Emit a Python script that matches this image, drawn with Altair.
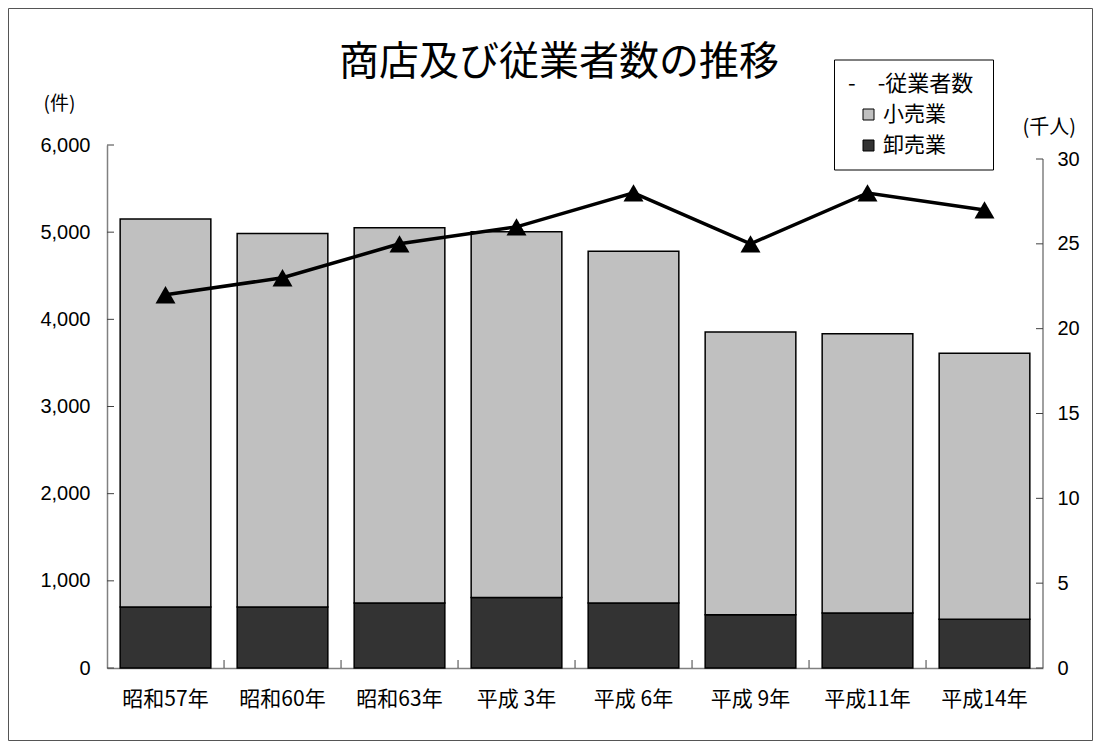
import altair as alt
import pandas as pd

# ---- data ----
categories = ["昭和57年", "昭和60年", "昭和63年", "平成 3年", "平成 6年", "平成 9年", "平成11年", "平成14年"]
retail = [4450, 4285, 4305, 4195, 4035, 3245, 3205, 3050]      # 小売業 (件)
wholesale = [700, 700, 745, 810, 745, 610, 630, 560]            # 卸売業 (件)
employees = [22, 23, 25, 26, 28, 25, 28, 27]                    # 従業者数 (千人)
series_names = ["小売業", "卸売業"]
series_colors = ["#C0C0C0", "#333333"]
line_name = "従業者数"
left_ticks = [0, 1000, 2000, 3000, 4000, 5000, 6000]
right_ticks = [0, 5, 10, 15, 20, 25, 30]
title_text = "商店及び従業者数の推移"
left_unit = "(件)"
right_unit = "(千人)"

W, H = 936, 523
JP = "Noto Sans CJK JP"
NUM = "Liberation Sans"

rows = []
for c, r, w in zip(categories, retail, wholesale):
    rows.append({"cat": c, "type": series_names[1], "value": w, "ord": 0})
    rows.append({"cat": c, "type": series_names[0], "value": r, "ord": 1})
bars_df = pd.DataFrame(rows)
line_df = pd.DataFrame({"cat": categories, "emp": employees})
one = pd.DataFrame({"a": [0]})

xscale = alt.Scale(domain=categories, paddingInner=0.225, paddingOuter=0.1125)
yl = alt.Scale(domain=[0, 6000], nice=False)
yr = alt.Scale(domain=[0, 30 * 523 / 509], nice=False)

x_axis = alt.Axis(title=None, labelAngle=0, ticks=False, domainColor="#808080", domainWidth=1.5,
                  labelFont=JP, labelFontSize=21, labelColor="black", labelPadding=20)
yl_axis = alt.Axis(values=left_ticks, format=",.0f", grid=False, ticks=False,
                   domainColor="#808080", domainWidth=1.5,
                   labelFont=NUM, labelFontSize=20, labelColor="black", labelPadding=17,
                   title=left_unit, titleAngle=0, titleX=-64, titleY=-42,
                   titleAlign="left", titleBaseline="middle", titleFont=JP,
                   titleFontSize=19, titleFontWeight="normal", titleColor="black")
yr_axis = alt.Axis(orient="right", values=right_ticks, format="d", grid=False, ticks=False, domain=False,
                   labelFont=NUM, labelFontSize=20, labelColor="black", labelPadding=14,
                   title=right_unit, titleAngle=0, titleX=-21, titleY=-18,
                   titleAlign="left", titleBaseline="middle", titleFont=JP,
                   titleFontSize=20, titleFontWeight="normal", titleColor="black")

X = alt.X("cat:N", scale=xscale, sort=categories, axis=x_axis)

border = alt.Chart(one).mark_rect(fillOpacity=0, stroke="#555555", strokeWidth=1).encode(
    x=alt.value(-98.5), x2=alt.value(W + 49.5), y=alt.value(-136.5), y2=alt.value(H + 72.5)
)
legend_box = alt.Chart(one).mark_rect(fill="white", stroke="black", strokeWidth=1).encode(
    x=alt.value(727.5), x2=alt.value(886.5), y=alt.value(-85), y2=alt.value(25)
)
title = alt.Chart(one).mark_text(
    text=title_text, font=JP, fontSize=40, align="center", baseline="middle", color="black"
).encode(x=alt.value(452), y=alt.value(-82))

bars = alt.Chart(bars_df).mark_bar(stroke="black", strokeWidth=1.5).encode(
    x=X,
    y=alt.Y("value:Q", stack="zero", scale=yl, axis=yl_axis),
    color=alt.Color("type:N", scale=alt.Scale(domain=series_names, range=series_colors),
                    legend=alt.Legend(orient="none", legendX=741, legendY=-71,
                                      title="-\u3000-" + line_name, titleFont=JP, titleFontSize=22,
                                      titleFontWeight="normal", titleColor="black", titlePadding=8,
                                      labelFont=JP, labelFontSize=21, labelColor="black",
                                      symbolType="square", symbolSize=121, symbolStrokeColor="black",
                                      symbolStrokeWidth=1, symbolOffset=10, labelOffset=4,
                                      rowPadding=9, padding=0)),
    order=alt.Order("ord:Q"),
)

left_tick_rules = alt.Chart(pd.DataFrame({"v": left_ticks})).mark_rule(color="#404040").encode(
    y=alt.Y("v:Q", scale=yl, axis=yl_axis), x=alt.value(0), x2=alt.value(7)
)
x_tick_rules = alt.Chart(pd.DataFrame({"cat": categories[:-1]})).mark_rule(
    color="#404040", xOffset=13.2
).encode(
    x=alt.X("cat:N", scale=xscale, sort=categories, bandPosition=1, axis=x_axis),
    y=alt.value(H - 8), y2=alt.value(H)
)

left_layer = alt.layer(border, legend_box, title, bars, left_tick_rules, x_tick_rules)

line = alt.Chart(line_df).mark_line(color="black", strokeWidth=3.5).encode(
    x=X,
    y=alt.Y("emp:Q", scale=yr, axis=yr_axis),
)
points = alt.Chart(line_df).mark_point(shape="triangle-up", filled=True, size=400, color="black", opacity=1).encode(
    x=X,
    y=alt.Y("emp:Q", scale=yr, axis=yr_axis),
)
right_tick_rules = alt.Chart(pd.DataFrame({"v": right_ticks})).mark_rule(color="#404040").encode(
    y=alt.Y("v:Q", scale=yr, axis=yr_axis), x=alt.value(W - 7), x2=alt.value(W)
)
right_domain = alt.Chart(pd.DataFrame({"a": [0], "b": [30]})).mark_rule(color="#808080", strokeWidth=1.5).encode(
    x=alt.value(W), y=alt.Y("a:Q", scale=yr, axis=yr_axis), y2="b:Q"
)

right_layer = alt.layer(right_domain, right_tick_rules, line, points)

chart = alt.layer(left_layer, right_layer).resolve_scale(y="independent").properties(
    width=W, height=H,
    padding={"left": 99, "top": 137, "right": 50, "bottom": 73},
    autosize=alt.AutoSizeParams(type="none"),
    background="white",
).configure_view(stroke="transparent")

chart.save("out.html", embed_options={"renderer": "svg", "actions": False})
